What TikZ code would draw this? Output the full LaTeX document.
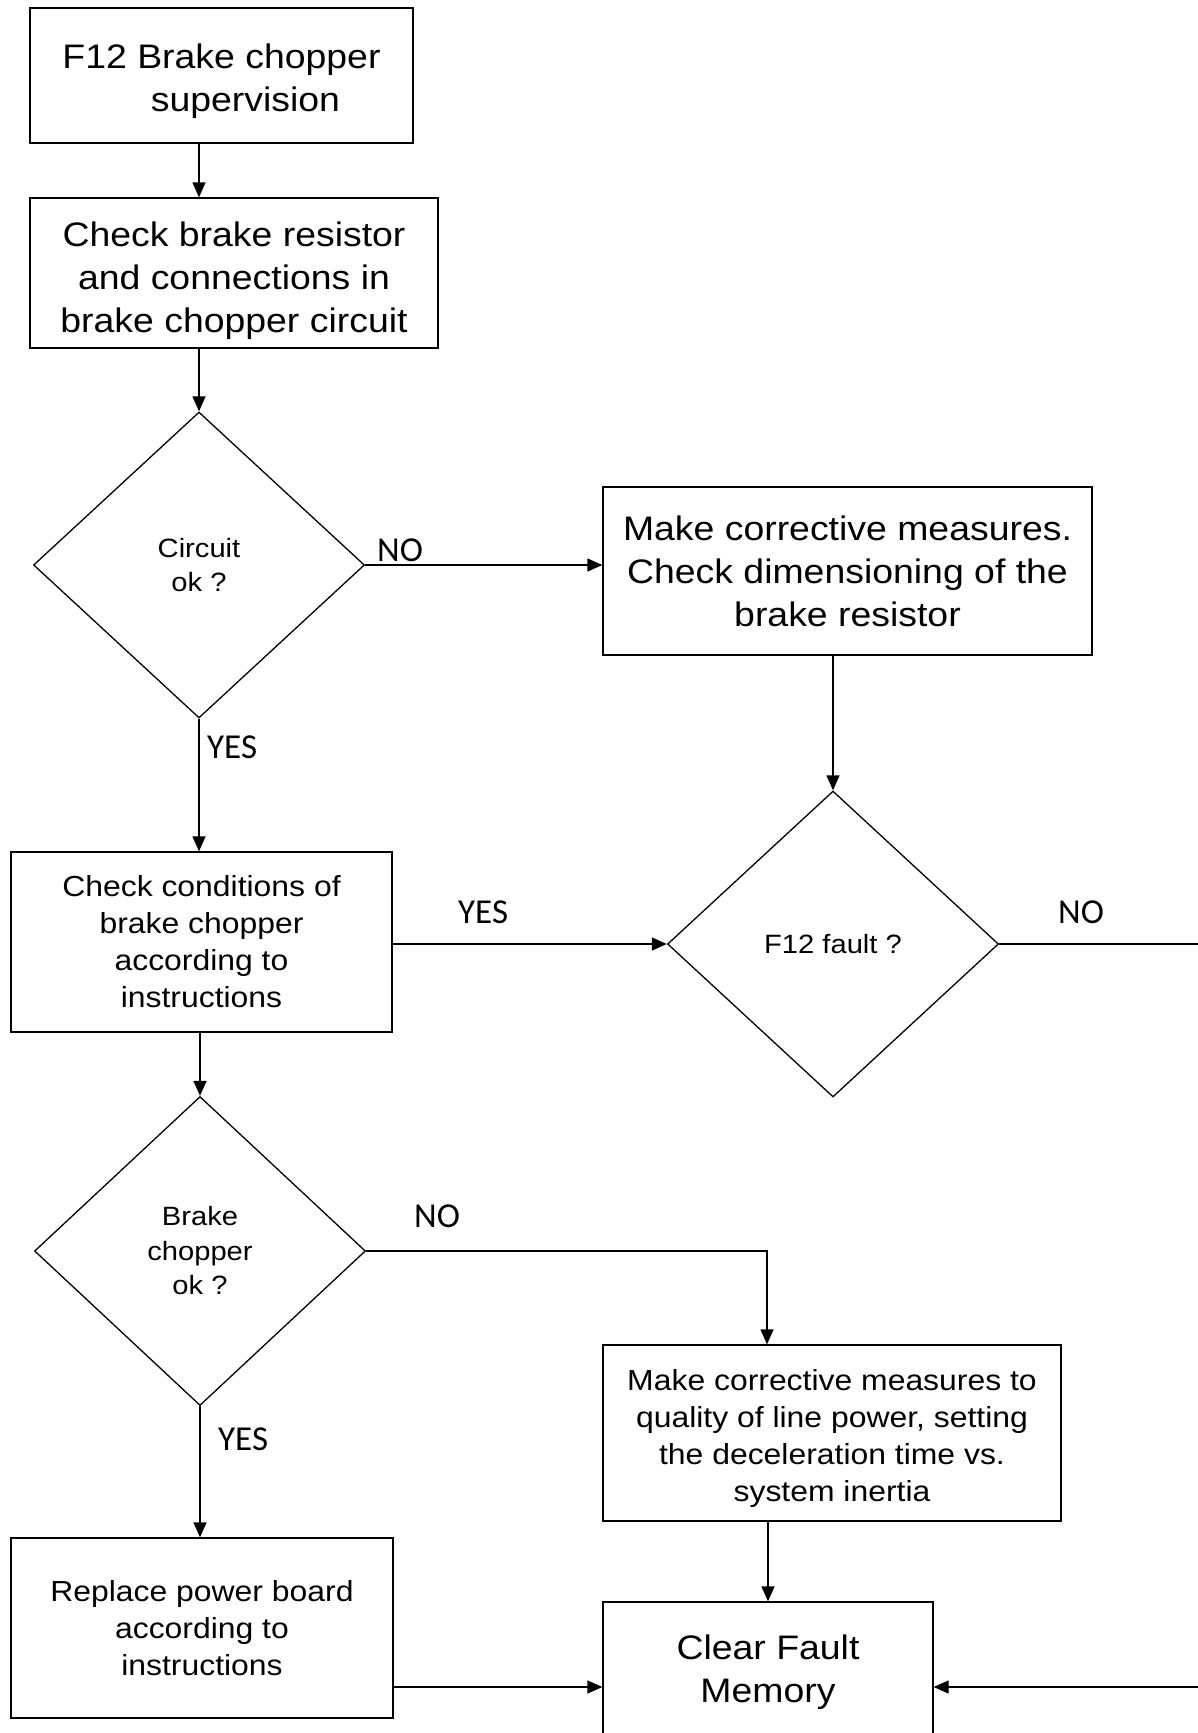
\documentclass[tikz,border=0pt]{standalone}
\usepackage{fontspec}
\setmainfont{Liberation Sans}[FakeStretch=1.1]
\newfontfamily\lblfont{Carlito}
\usepackage{tikz}
\usetikzlibrary{arrows.meta,shapes.geometric,positioning}
\tikzstyle{arrow} = [line width=1.3pt,-{Triangle[length=15pt,width=13pt]}]
\tikzstyle{connector} = [line width=1.3pt]
\tikzstyle{box} = [draw, line width=1.3pt, rectangle, align=center, inner sep=0pt]
\tikzstyle{decision} = [draw, line width=1.3pt, diamond, align=center, inner sep=0pt, minimum width=331pt, minimum height=306pt]
\tikzstyle{bigtext} = [font=\fontsize{34}{43}\selectfont]
\tikzstyle{midtext} = [font=\fontsize{29}{37}\selectfont]
\tikzstyle{smalltext} = [font=\fontsize{26.5}{34.5}\selectfont]
\tikzstyle{answer} = [anchor=base west, inner sep=0pt, font=\lblfont\fontsize{35}{40}\selectfont]

\begin{document}
\begin{tikzpicture}[x=1pt, y=-1pt]
\clip (0,0) rectangle (1198,1733);

% Left column
\node[box, bigtext, align=left, minimum width=383pt, minimum height=135pt] (sup) at (221.5,75.5) {\rule{0pt}{36pt}F12 Brake chopper\\\hspace*{2.6em}supervision};
\node[box, bigtext, minimum width=408pt, minimum height=150pt] (chk) at (234,273) {\rule{0pt}{40pt}Check brake resistor\\and connections in\\brake chopper circuit};
\node[decision, smalltext] (cok) at (199,565) {Circuit\\ok ?};
\node[box, midtext, minimum width=381pt, minimum height=180pt] (cond) at (201.5,942) {Check conditions of\\brake chopper\\according to\\instructions};
\node[decision, smalltext, minimum height=309pt] (bok) at (200,1251) {Brake\\chopper\\ok ?};
\node[box, midtext, minimum width=382pt, minimum height=180pt] (repl) at (202,1628) {Replace power board\\according to\\instructions};

% Right column
\node[box, bigtext, minimum width=489pt, minimum height=168pt] (corr) at (847.5,571) {Make corrective measures.\\Check dimensioning of the\\brake resistor};
\node[decision, smalltext] (f12) at (833,944) {F12 fault ?};
\node[box, midtext, minimum width=458pt, minimum height=176pt] (line) at (832,1433) {\rule{0pt}{31pt}Make corrective measures to\\quality of line power, setting\\the deceleration time vs.\\system inertia};
\node[box, bigtext, minimum width=330pt, minimum height=140pt] (clr) at (768,1672) {Clear Fault\\Memory};

% Free ends at the right edge
\coordinate (rout) at (1198,944);
\coordinate (rin) at (1198,1687);

% Connectors
\draw[arrow] (sup.south -| cok.north) -- (chk.north -| cok.north);
\draw[arrow] (chk.south -| cok.north) -- (cok.north);
\draw[arrow] (cok.east) -- (cok.east -| corr.west);
\draw[arrow] (cok.south) -- (cok.south |- cond.north);
\draw[arrow] (corr.south -| f12.north) -- (f12.north);
\draw[arrow] (f12.west -| cond.east) -- (f12.west);
\draw[connector] (f12.east) -- (rout);
\draw[arrow] (cond.south -| bok.north) -- (bok.north);
\draw[arrow] (bok.east) -| ([xshift=-65pt]line.north);
\draw[arrow] (bok.south) -- (bok.south |- repl.north);
\draw[arrow] (line.south -| clr.north) -- (clr.north);
\draw[arrow] (repl.east |- rin) -- (rin -| clr.west);
\draw[arrow] (rin) -- (rin -| clr.east);

% Answers
\node[answer] (no1) at (377,561) {NO};
\node[answer] (yes1) at (207,758) {YES};
\node[answer] (yes2) at (458,923) {YES};
\node[answer] (no2) at (1058,923) {NO};
\node[answer] (no3) at (414,1227) {NO};
\node[answer] (yes3) at (218,1450) {YES};
\end{tikzpicture}
\end{document}
